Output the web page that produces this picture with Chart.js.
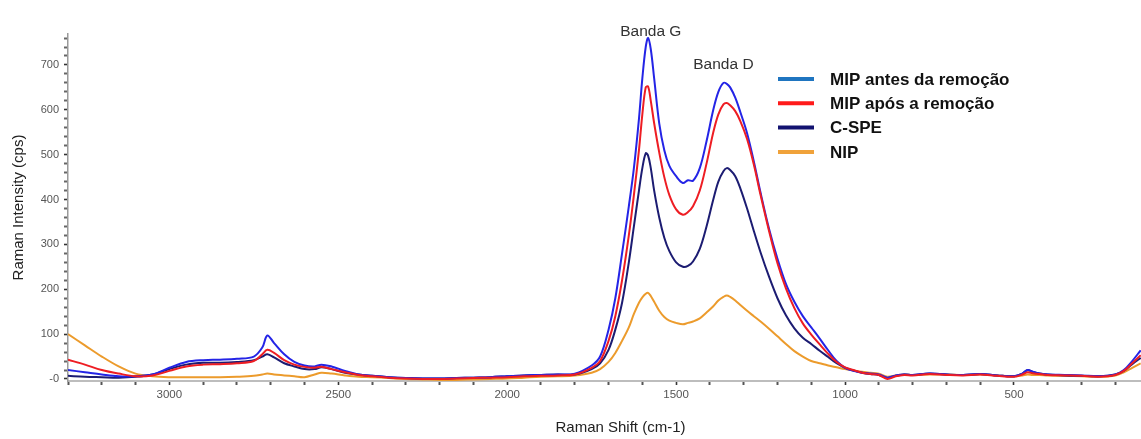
<!DOCTYPE html>
<html>
<head>
<meta charset="utf-8">
<title>Raman</title>
<script src="https://cdn.jsdelivr.net/npm/chart.js@4.4.1/dist/chart.umd.min.js"></script>
<style>
  body { margin: 0; background: #fff; }
  #wrap { width: 1141px; height: 439px; position: relative; }
</style>
</head>
<body>
<div id="wrap"><canvas id="ramanChart"></canvas></div>
<script>
// Raman shift (cm-1) from left to right
const ramanShift = [
  3300, 3250, 3200, 3150, 3100, 3050, 3000, 2950, 2900, 2850, 2800, 2750, 2725, 2710, 2690, 2660, 2630, 2600,
  2570, 2550, 2520, 2480, 2440, 2400, 2350, 2300, 2250, 2200, 2150, 2100, 2050, 2000, 1950, 1900, 1850,
  1800, 1750, 1725, 1700, 1680, 1660, 1640, 1625, 1610, 1600, 1590, 1583, 1575, 1565, 1550, 1535, 1520,
  1500, 1480, 1465, 1450, 1430, 1410, 1390, 1375, 1360, 1350, 1340, 1325, 1310, 1290, 1270, 1250, 1225,
  1200, 1175, 1150, 1125, 1100, 1075, 1050, 1025, 1000, 975, 950, 925, 900,
  875, 850, 825, 800, 750, 700, 650, 600, 550, 500, 475, 460, 445, 425, 400, 350, 300, 250, 200, 175, 150, 125
];

// intensities (cps)
const mipBefore = [
  20, 15, 10, 6, 6, 10, 25, 38, 42, 43, 45, 50, 70, 97, 80, 55, 38, 30,
  28, 32, 28, 18, 10, 7, 4, 2, 1, 1, 2, 3, 4, 6, 8, 9, 10,
  12, 30, 50, 110, 180, 280, 385, 470, 580, 670, 740, 760, 735, 670, 570, 510, 475,
  452, 437, 443, 442, 470, 530, 600, 640, 660, 658, 650, 627, 595, 548, 485, 415, 335,
  268, 212, 172, 140, 115, 90, 64, 40, 25, 18, 14, 12, 10,
  3, 8, 10, 9, 12, 10, 9, 11, 8, 6, 12, 20, 16, 12, 10, 9, 8, 6, 10, 20, 40, 64
];
const mipAfter = [
  43, 32, 20, 12, 6, 8, 18, 28, 32, 33, 35, 40, 55, 65, 58, 42, 32, 27,
  25, 27, 22, 15, 9, 6, 3, 1, 0, 0, 1, 2, 3, 4, 6, 7, 8,
  10, 25, 40, 85, 140, 220, 320, 410, 510, 590, 650, 652, 620, 570, 505, 450, 410,
  378, 366, 372, 385, 420, 480, 550, 590, 612, 615, 610, 597, 575, 535, 478, 410, 330,
  258, 202, 158, 124, 99, 77, 56, 38, 26, 20, 14, 11, 9,
  0, 6, 9, 8, 11, 9, 8, 10, 7, 5, 10, 15, 13, 11, 9, 8, 7, 5, 9, 18, 35, 53
];
const cspe = [
  7, 5, 4, 3, 5, 10, 22, 32, 36, 36, 38, 42, 50, 55, 48, 35, 28, 22,
  22, 26, 22, 14, 10, 7, 4, 2, 1, 1, 2, 3, 4, 6, 8, 9, 10,
  10, 22, 35, 65, 110, 170, 260, 340, 420, 470, 503, 498, 470, 420, 360, 315, 285,
  260, 250, 252, 262, 290, 340, 400, 440, 463, 470, 466, 452, 425, 380, 330, 282, 228,
  180, 142, 113, 92, 78, 63, 49, 35, 25, 19, 14, 11, 9,
  2, 7, 10, 9, 12, 10, 9, 11, 8, 6, 12, 20, 16, 12, 10, 8, 7, 6, 10, 18, 33, 47
];
const nip = [
  100, 75, 50, 28, 12, 6, 4, 4, 4, 4, 5, 7, 10, 12, 10, 8, 6, 4,
  10, 14, 12, 8, 5, 4, 2, 0, -1, -2, -2, -1, 0, 1, 3, 5, 6,
  8, 14, 22, 38, 58, 85, 115, 145, 170, 182, 190, 192, 185, 172, 152, 138, 130,
  125, 122, 125, 128, 135, 148, 162, 175, 183, 186, 183, 175, 165, 152, 140, 128, 112,
  95, 78, 62, 50, 40, 35, 30, 26, 22, 19, 16, 14, 12,
  5, 8, 10, 9, 10, 10, 9, 10, 8, 6, 8, 10, 9, 9, 8, 7, 6, 5, 8, 15, 25, 35
];

const seriesLabels = ['MIP antes da remoção', 'MIP após a remoção', 'C-SPE', 'NIP'];
const lineColors = ['#2424e6', '#ee1d23', '#1c1c72', '#ec9b2c'];
const legendColors = ['#1f75c0', '#ff1a1a', '#121270', '#f0a23a'];

const xTickLabels = [3000, 2500, 2000, 1500, 1000, 500];
const yTickLabels = ['-0', '100', '200', '300', '400', '500', '600', '700'];

const bandLabels = ['Banda G', 'Banda D'];
const bandShifts = [1575, 1360];

function toPoints(values) {
  return ramanShift.map((x, i) => ({ x: x, y: values[i] }));
}

// legend drawn inside the plot, with its own swatch colours
const insideLegend = {
  id: 'insideLegend',
  afterDraw(chart, args, opts) {
    const ctx = chart.ctx;
    ctx.save();
    ctx.font = 'bold 17px "Liberation Sans", Arial, sans-serif';
    ctx.textBaseline = 'middle';
    seriesLabels.forEach((label, i) => {
      const y = opts.top + i * opts.rowGap;
      ctx.strokeStyle = legendColors[i];
      ctx.lineWidth = 4;
      ctx.beginPath();
      ctx.moveTo(opts.left, y);
      ctx.lineTo(opts.left + opts.lineLen, y);
      ctx.stroke();
      ctx.fillStyle = '#111';
      ctx.fillText(label, opts.left + opts.lineLen + opts.textGap, y + 1);
    });
    ctx.restore();
  }
};

// "Banda G" / "Banda D" above the peaks of the first series
const bandText = {
  id: 'bandText',
  afterDraw(chart, args, opts) {
    const ctx = chart.ctx;
    const xs = chart.scales.x, ys = chart.scales.y;
    ctx.save();
    ctx.font = '15.5px "Liberation Sans", Arial, sans-serif';
    ctx.fillStyle = '#333';
    ctx.textAlign = 'center';
    ctx.textBaseline = 'middle';
    bandLabels.forEach((label, i) => {
      const idx = ramanShift.indexOf(bandShifts[i]);
      const px = xs.getPixelForValue(bandShifts[i]);
      const py = ys.getPixelForValue(mipBefore[idx]) - opts.gap;
      ctx.fillText(label, px, py);
    });
    ctx.restore();
  }
};

// x title sits a little right of the plot centre in the original
const xTitle = {
  id: 'xTitle',
  afterDraw(chart, args, opts) {
    const ctx = chart.ctx;
    const area = chart.chartArea;
    ctx.save();
    ctx.font = '15px "Liberation Sans", Arial, sans-serif';
    ctx.fillStyle = '#222';
    ctx.textAlign = 'center';
    ctx.textBaseline = 'middle';
    ctx.fillText(opts.text, (area.left + area.right) / 2 + opts.shift, chart.height - opts.fromBottom);
    ctx.restore();
  }
};

const ctx = document.getElementById('ramanChart').getContext('2d');

new Chart(ctx, {
  type: 'line',
  data: {
    datasets: [
      { label: seriesLabels[0], data: toPoints(mipBefore), borderColor: lineColors[0], order: 1 },
      { label: seriesLabels[1], data: toPoints(mipAfter), borderColor: lineColors[1], order: 0 },
      { label: seriesLabels[2], data: toPoints(cspe), borderColor: lineColors[2], order: 2 },
      { label: seriesLabels[3], data: toPoints(nip), borderColor: lineColors[3], order: 3 }
    ]
  },
  options: {
    responsive: true,
    maintainAspectRatio: false,
    animation: false,
    layout: { padding: { left: 0, right: 0, top: 34, bottom: 0 } },
    elements: {
      line: { borderWidth: 2, tension: 0.35, fill: false },
      point: { radius: 0 }
    },
    plugins: {
      legend: { display: false },
      tooltip: { enabled: false },
      insideLegend: { left: 778, top: 79, rowGap: 24.3, lineLen: 36, textGap: 16 },
      bandText: { gap: 18 },
      xTitle: { text: 'Raman Shift (cm-1)', shift: 16, fromBottom: 11 }
    },
    scales: {
      x: {
        type: 'linear',
        reverse: true,
        min: 124,
        max: 3300,
        afterBuildTicks: scale => {
          const t = [];
          for (let v = 200; v <= 3300; v += 100) t.push({ value: v });
          scale.ticks = t;
        },
        afterFit: scale => { scale.height = 58; },
        ticks: {
          autoSkip: false,
          maxRotation: 0,
          padding: 3,
          color: '#555',
          font: { family: '"Liberation Sans", Arial, sans-serif', size: 11.5 },
          callback: v => xTickLabels.includes(v) ? String(v) : ''
        },
        grid: {
          drawOnChartArea: false,
          tickLength: 4,
          tickColor: c => (c.tick && xTickLabels.includes(c.tick.value)) ? '#333' : '#555',
          tickWidth: c => (c.tick && xTickLabels.includes(c.tick.value)) ? 1.6 : 2
        },
        border: { color: '#bdbdbd', width: 2 },
        title: { display: false }
      },
      y: {
        min: -4.5,
        max: 769,
        afterBuildTicks: scale => {
          const t = [];
          for (let v = 0; v <= 760; v += 20) t.push({ value: v });
          scale.ticks = t;
        },
        afterFit: scale => { scale.width = 68; },
        ticks: {
          autoSkip: false,
          padding: 5,
          color: '#555',
          font: { family: '"Liberation Sans", Arial, sans-serif', size: 11 },
          callback: v => (v % 100 === 0) ? yTickLabels[v / 100] : ''
        },
        grid: {
          drawOnChartArea: false,
          tickLength: 4,
          tickColor: c => (c.tick && c.tick.value % 100 === 0) ? '#333' : '#666',
          tickWidth: c => (c.tick && c.tick.value % 100 === 0) ? 1.6 : 2
        },
        border: { color: '#9a9a9a', width: 1.5 },
        title: {
          display: true,
          text: 'Raman Intensity (cps)',
          color: '#222',
          padding: { top: 10, bottom: 0 },
          font: { family: '"Liberation Sans", Arial, sans-serif', size: 15 }
        }
      }
    }
  },
  plugins: [insideLegend, bandText, xTitle]
});
</script>
</body>
</html>
